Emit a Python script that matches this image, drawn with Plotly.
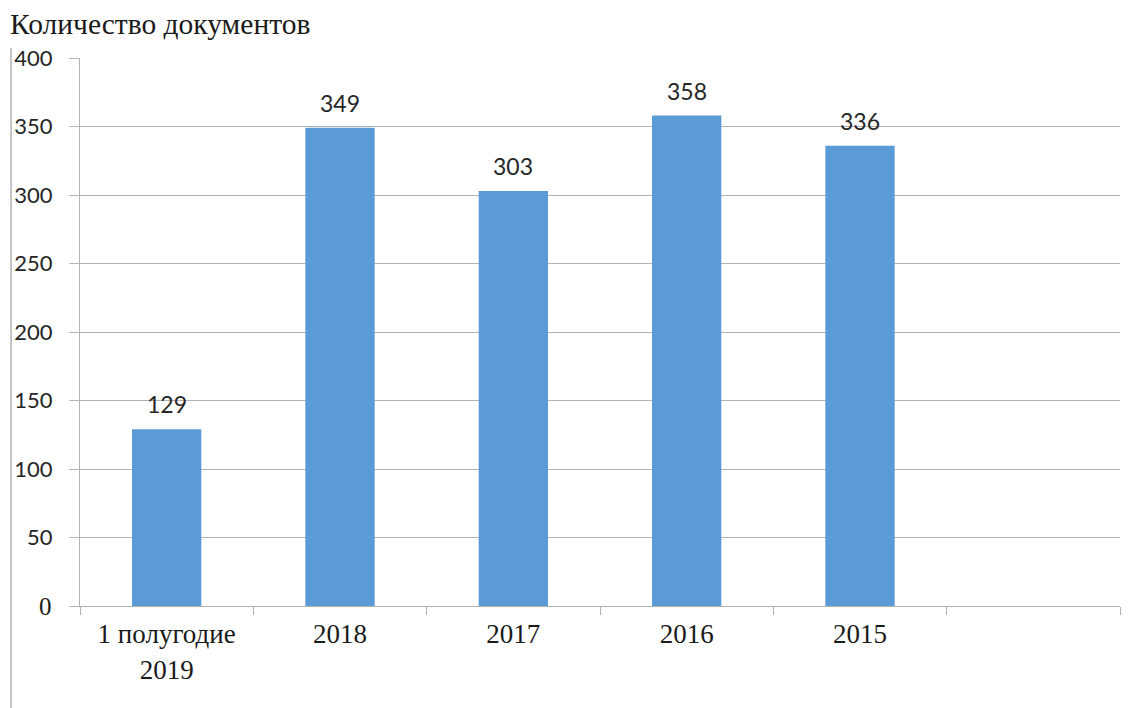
import plotly.graph_objects as go

categories = ["1 полугодие<br>2019", "2018", "2017", "2016", "2015", " "]
values = [129, 349, 303, 358, 336, None]
y_ticks = [0, 50, 100, 150, 200, 250, 300, 350, 400]
y_tick_text = [""] + [str(v) for v in y_ticks[1:]]
title_text = "Количество документов"

BAR = "#5B9BD5"
GRID = "#B3B3B3"

fig = go.Figure()
fig.add_trace(go.Bar(x=categories, y=values, marker=dict(color=BAR, line=dict(width=0)),
                     hoverinfo="skip"))

for i, v in enumerate(values):
    if v is None:
        continue
    fig.add_annotation(x=i, y=v, text=str(v), showarrow=False, yanchor="bottom",
                       yshift=9, font=dict(family="Lato", size=23, color="#262626"))

# zero tick label drawn in serif, as in the original
fig.add_annotation(xref="paper", x=-0.025, xanchor="right", yref="y", y=y_ticks[0],
                   yanchor="middle", text=str(y_ticks[0]), showarrow=False,
                   font=dict(family="Liberation Serif", size=25, color="#1a1a1a"))

# left frame line
fig.add_shape(type="line", xref="paper", yref="paper", x0=-0.0663, x1=-0.0663,
              y0=-0.2, y1=1.018, line=dict(color="#8C8C8C", width=1))

fig.update_layout(
    width=1148, height=708,
    margin=dict(l=80, r=28, t=58, b=102),
    paper_bgcolor="white", plot_bgcolor="white",
    bargap=0.6,
    showlegend=False,
    title=dict(text=title_text, xref="container", yref="container", x=10/1148, xanchor="left",
               y=1 - 24/708, yanchor="middle",
               font=dict(family="Liberation Serif", size=29.5, color="#1a1a1a")),
    xaxis=dict(type="category", range=[-0.5, 5.5], tickson="boundaries", ticks="outside", ticklen=8,
               tickcolor=GRID, showline=True, linecolor=GRID, linewidth=1, tickangle=0,
               automargin=False,
               showgrid=False, tickfont=dict(family="Liberation Serif", size=27, color="#1a1a1a"),
               ticklabelstandoff=4),
    yaxis=dict(range=[0, 400], tickvals=y_ticks, ticktext=y_tick_text, ticks="outside",
               ticklen=10, tickcolor=GRID, showline=True, linecolor=GRID, linewidth=1,
               showgrid=True, gridcolor=GRID, gridwidth=1, zeroline=False, automargin=False,
               tickfont=dict(family="Lato", size=22, color="#262626"), ticklabelstandoff=12),
)

fig.write_html("out.html")
